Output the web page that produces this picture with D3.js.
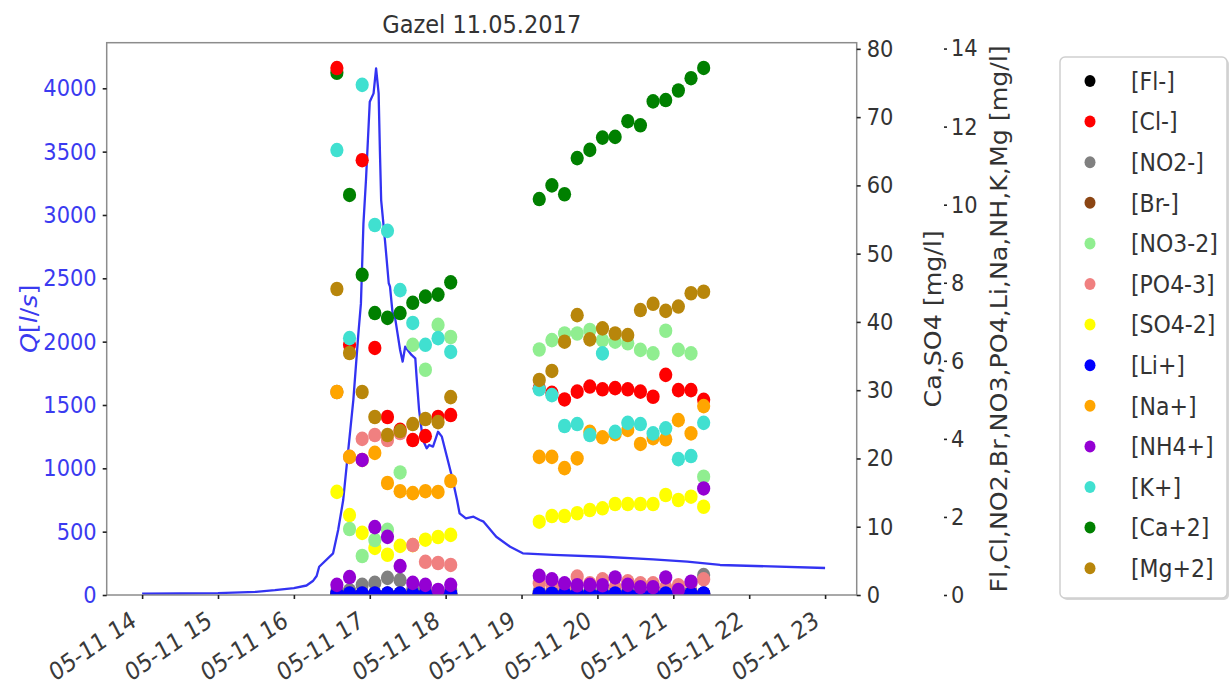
<!DOCTYPE html>
<html><head><meta charset="utf-8">
<script src="https://cdn.jsdelivr.net/npm/d3@7"></script>
<style>
body{margin:0;background:#fff;}
svg text{font-family:"DejaVu Sans",sans-serif;}
</style>
</head><body>
<svg id="chart" width="1230" height="689"></svg>
<script>
// ---------------- DATA ----------------
const chartTitle = "Gazel 11.05.2017";
const dateStr = "2017-05-11";
const xTickHours = ["14:00","15:00","16:00","17:00","18:00","19:00","20:00","21:00","22:00","23:00"];
const qTicks = [0,500,1000,1500,2000,2500,3000,3500,4000];
const caTicks = [0,10,20,30,40,50,60,70,80];
const ionTicks = [0,2,4,6,8,10,12,14];

// Discharge Q [l/s]
const qTimes = ["14:00","14:30","15:00","15:30","15:45","16:00","16:10","16:15","16:18","16:20","16:31","16:35","16:39","16:43","16:47","16:51","16:53","16:55","16:57","17:00","17:03","17:05","17:07","17:08","17:09","17:12","17:15","17:16","17:18","17:20","17:24","17:26","17:28","17:33","17:36","17:37","17:39","17:42","17:45","17:47","17:50","17:54","17:57","18:01","18:05","18:09","18:11","18:16","18:22","18:27","18:30","18:40","18:51","19:01","19:25","20:05","20:44","21:11","21:37","23:00"];
const qValues = [10,12,15,25,38,55,75,110,150,223,329,513,750,1145,1539,2066,2300,2934,3276,3894,3960,4158,3960,3513,3118,2802,2461,2434,2230,2190,1934,1842,1960,1895,1868,1723,1460,1224,1158,1184,1171,1289,1250,1092,934,750,645,605,618,592,579,460,381,329,316,302,282,263,237,213];

// Sample times (ion samples)
const sampleTimes = ["16:34","16:44","16:54","17:04","17:14","17:24","17:34","17:44","17:54","18:04",
  "19:14","19:24","19:34","19:44","19:54","20:04","20:14","20:24","20:34","20:44","20:54","21:04","21:14","21:24"];

const fl  = [0.03,0.03,0.03,0.03,0.03,0.03,0.03,0.03,0.03,0.03, 0.03,0.03,0.03,0.03,0.03,0.03,0.03,0.03,0.03,0.03,0.03,0.03,0.03,0.03];
const cl  = [13.50,6.41,11.14,6.33,4.56,4.23,3.97,4.07,4.56,4.61, 5.30,5.18,5.01,5.21,5.34,5.27,5.30,5.27,5.21,5.08,5.64,5.25,5.25,5.00];
const no2 = [0.10,0.12,0.26,0.31,0.44,0.38,0.15,0.12,0.10,0.12, 0.10,0.10,0.10,0.10,0.10,0.10,0.10,0.10,0.10,0.10,0.10,0.10,0.10,0.51];
const br  = [0.03,0.03,0.03,0.03,0.03,0.03,0.03,0.03,0.03,0.03, 0.03,0.03,0.03,0.03,0.03,0.03,0.03,0.03,0.03,0.03,0.03,0.03,0.03,0.03];
const no3 = [5.20,1.69,1.00,1.41,1.67,3.14,6.41,5.77,6.92,6.61, 6.29,6.53,6.70,6.70,6.79,6.53,6.49,6.45,6.28,6.19,6.77,6.28,6.19,3.03];
const po4 = [5.20,3.54,4.00,4.10,3.97,4.15,1.28,0.85,0.82,0.77, 0.30,0.25,0.20,0.47,0.30,0.40,0.20,0.35,0.30,0.30,0.20,0.25,0.30,0.40];
const so4 = [15.1,11.7,9.1,6.9,5.9,7.2,7.3,8.1,8.5,8.8, 10.74,11.57,11.57,11.97,12.45,12.70,13.33,13.33,13.33,13.33,14.65,13.92,14.40,12.93];
const li  = [0.04,0.04,0.04,0.04,0.04,0.04,0.04,0.04,0.04,0.04, 0.04,0.04,0.04,0.04,0.04,0.04,0.04,0.04,0.04,0.04,0.04,0.04,0.04,0.04];
const na  = [5.20,3.54,3.46,3.64,2.87,2.66,2.61,2.66,2.64,2.92, 3.54,3.54,3.25,3.50,4.18,4.04,4.12,4.23,3.87,4.02,3.99,4.48,4.14,4.84];
const nh4 = [0.26,0.46,3.46,1.74,1.49,0.74,0.31,0.26,0.13,0.26, 0.49,0.40,0.30,0.25,0.26,0.25,0.45,0.26,0.20,0.20,0.45,0.13,0.34,2.73];
const k   = [11.40,6.58,13.07,9.48,9.33,7.81,6.97,6.41,6.58,6.23, 5.27,5.12,4.33,4.38,4.10,6.19,4.18,4.41,4.38,4.14,4.27,3.48,3.56,4.41];
const ca  = [76.5,58.6,46.9,41.3,40.6,41.3,42.8,43.7,44.0,45.8, 58.0,60.0,58.7,64.0,65.2,67.0,67.1,69.4,68.8,72.3,72.5,73.9,75.7,77.2];
const mg  = [7.84,6.20,5.20,4.56,4.10,4.20,4.38,4.51,4.43,5.07, 5.51,5.74,6.49,7.17,6.55,6.83,6.70,6.66,7.30,7.46,7.28,7.39,7.73,7.77];

const seriesNames  = ["[Fl-]","[Cl-]","[NO2-]","[Br-]","[NO3-2]","[PO4-3]","[SO4-2]","[Li+]","[Na+]","[NH4+]","[K+]","[Ca+2]","[Mg+2]"];
const seriesValues = [fl, cl, no2, br, no3, po4, so4, li, na, nh4, k, ca, mg];
const seriesAxis   = ["ion","ion","ion","ion","ion","ion","ca","ion","ion","ion","ion","ca","ion"];
const seriesColors = ["black","red","gray","saddlebrown","lightgreen","lightcoral","yellow","blue","orange","darkviolet","turquoise","green","darkgoldenrod"];

// ---------------- LAYOUT ----------------
const M = {l:106.7, r:856.7, t:42.7, b:595};
const SY = 1.1; // vertical stretch of the original picture
const parse = d3.timeParse("%Y-%m-%d %H:%M");
const T = s => parse(dateStr + " " + s);

const x  = d3.scaleTime().domain([T("13:32"), T("23:25")]).range([M.l, M.r]);
const yQ = d3.scaleLinear().domain([0, 4360]).range([M.b, M.t]);
const yCa = d3.scaleLinear().domain([0, 80.9]).range([M.b, M.t]);
const yIon = d3.scaleLinear().domain([0, 14.15]).range([M.b, M.t]);

const svg = d3.select("#chart");
svg.append("rect").attr("width",1230).attr("height",689).attr("fill","#fff");

svg.append("defs").append("clipPath").attr("id","plotclip")
  .append("rect").attr("x",M.l).attr("y",M.t).attr("width",M.r-M.l).attr("height",M.b-M.t);

// Title
svg.append("text").attr("transform",`translate(${(M.l+M.r)/2},33) scale(1,${SY})`)
  .attr("text-anchor","middle").attr("font-size",22.5).attr("fill","#333").text(chartTitle);

// Q line
const plot = svg.append("g").attr("clip-path","url(#plotclip)");
const qData = qTimes.map((t,i)=>({t:T(t), v:qValues[i]}));
plot.append("path").datum(qData)
  .attr("fill","none").attr("stroke","#3333f2").attr("stroke-width",2.3).attr("stroke-linejoin","round")
  .attr("d", d3.line().x(d=>x(d.t)).y(d=>yQ(d.v)));

// dots: Ca-axis series first, then ion-axis series (twin axes drawn on top)
const sTimes = sampleTimes.map(T);
["ca","ion"].forEach(ax=>{
  const ys = ax==="ca" ? yCa : yIon;
  seriesNames.forEach((nm,si)=>{
    if (seriesAxis[si]!==ax) return;
    plot.append("g").selectAll("ellipse").data(seriesValues[si]).join("ellipse")
      .attr("cx",(d,i)=>x(sTimes[i])).attr("cy",d=>ys(d))
      .attr("rx",6.6).attr("ry",7.3).attr("fill",seriesColors[si]);
  });
});

// frame
svg.append("rect").attr("x",M.l).attr("y",M.t).attr("width",M.r-M.l).attr("height",M.b-M.t)
  .attr("fill","none").attr("stroke","#8c8c8c").attr("stroke-width",1.5);

function styleAxis(g, color, fs){
  g.select(".domain").remove();
  g.selectAll(".tick line").attr("stroke","#222").attr("stroke-width",1.6);
  g.selectAll(".tick text").attr("fill",color).attr("font-size",fs||21)
   .attr("font-family","DejaVu Sans, sans-serif");
}

// left axis
const gL = svg.append("g").attr("transform",`translate(${M.l},0)`)
  .call(d3.axisLeft(yQ).tickValues(qTicks).tickSize(4).tickPadding(6).tickFormat(d3.format("d")));
styleAxis(gL, "#3a3af0");
gL.selectAll(".tick text").attr("transform",`scale(1,${SY})`);

// right axis (Ca, SO4)
const gR = svg.append("g").attr("transform",`translate(${M.r},0)`)
  .call(d3.axisRight(yCa).tickValues(caTicks).tickSize(4).tickPadding(6).tickFormat(d3.format("d")));
styleAxis(gR, "#333");
gR.selectAll(".tick text").attr("transform",`scale(1,${SY})`);

// third axis
const gR2 = svg.append("g").attr("transform",`translate(944,0)`)
  .call(d3.axisRight(yIon).tickValues(ionTicks).tickSize(3).tickPadding(4).tickFormat(d3.format("d")));
styleAxis(gR2, "#333");
gR2.selectAll(".tick text").attr("transform",`scale(1,${SY})`);

// x axis
const gX = svg.append("g").attr("transform",`translate(0,${M.b})`)
  .call(d3.axisBottom(x).tickValues(xTickHours.map(T)).tickSize(4).tickFormat(d3.timeFormat("%m-%d %H")));
styleAxis(gX, "#3a3a3a", 21.5);
gX.selectAll(".tick text").attr("y",0).attr("dy",0).attr("text-anchor","end")
  .attr("transform",`translate(-5,30) scale(1,${SY*1.04}) rotate(-31)`);

// axis labels
const ql = svg.append("text").attr("transform",`translate(37,${(M.t+M.b)/2}) scale(1,${SY}) rotate(-90)`)
  .attr("text-anchor","middle").attr("font-size",23).attr("fill","#3a3af0");
ql.append("tspan").attr("font-style","italic").text("Q");
ql.append("tspan").text("[");
ql.append("tspan").attr("font-style","italic").text("l");
ql.append("tspan").text("/");
ql.append("tspan").attr("font-style","italic").text("s");
ql.append("tspan").text("]");

svg.append("text").attr("transform",`translate(941,${(M.t+M.b)/2}) scale(1,${SY}) rotate(-90)`)
  .attr("text-anchor","middle").attr("font-size",23).attr("fill","#333").text("Ca,SO4 [mg/l]");
svg.append("text").attr("transform",`translate(1007,${(M.t+M.b)/2}) scale(1,${SY}) rotate(-90)`)
  .attr("text-anchor","middle").attr("font-size",23).attr("fill","#333").text("Fl,Cl,NO2,Br,NO3,PO4,Li,Na,NH,K,Mg [mg/l]");

// legend
const lg = svg.append("g");
lg.append("rect").attr("x",1062).attr("y",59).attr("width",167).attr("height",541).attr("rx",5)
  .attr("fill","#bbb").attr("opacity",0.6);
lg.append("rect").attr("x",1060).attr("y",57).attr("width",167).attr("height",541).attr("rx",5)
  .attr("fill","#fff").attr("stroke","#cfcfcf").attr("stroke-width",1.5);
seriesNames.forEach((nm,i)=>{
  const yy = 81 + i*40.6;
  lg.append("ellipse").attr("cx",1090).attr("cy",yy).attr("rx",5.5).attr("ry",6).attr("fill",seriesColors[i]);
  lg.append("text").attr("transform",`translate(1131,${yy}) scale(1,${SY})`).attr("dy","0.36em")
    .attr("font-size",22).attr("fill","#333").text(nm);
});
</script>
</body></html>
